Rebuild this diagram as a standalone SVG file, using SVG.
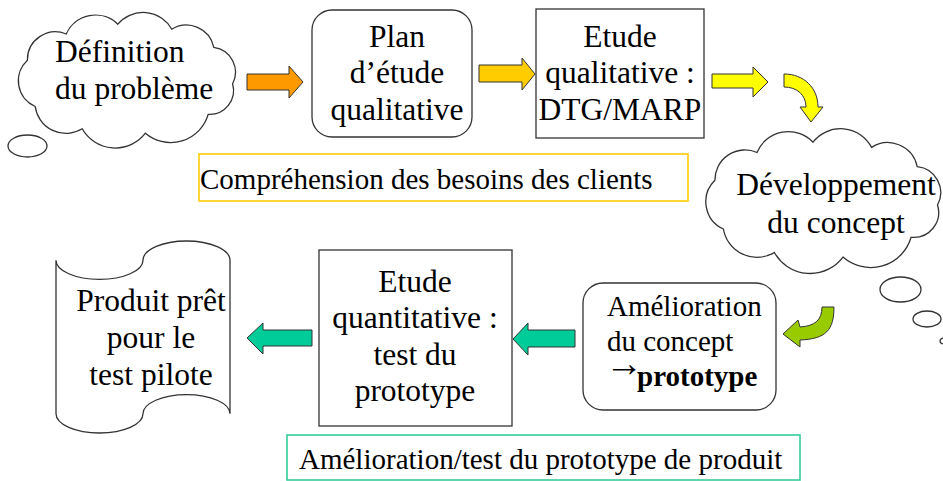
<svg xmlns="http://www.w3.org/2000/svg" width="943" height="481" viewBox="0 0 943 481">
  <style>
    .node-label { font-family: 'Liberation Serif', 'Times New Roman', serif; font-size: 31.5px; fill: #000; }
    .small-label { font-family: 'Liberation Serif', 'Times New Roman', serif; font-size: 29px; fill: #000; }
    .centered { text-anchor: middle; }
    .node-shape { fill: #fff; stroke: #333; stroke-width: 1.3; }
    .block-arrow { stroke: #333; stroke-width: 1; stroke-linejoin: miter; }
  </style>
  <rect width="943" height="481" fill="#fff"/>

  <!-- Phase labels -->
  <g id="label-comprehension">
    <rect x="199" y="154" width="489" height="47" fill="none" stroke="#FFCC00" stroke-width="1.6"/>
    <text class="small-label" x="200" y="189">Compréhension des besoins des clients</text>
  </g>
  <g id="label-amelioration">
    <rect x="287" y="435" width="513" height="45" fill="none" stroke="#33CC99" stroke-width="1.6"/>
    <text class="small-label" x="299" y="469">Amélioration/test du prototype de produit</text>
  </g>

  <!-- Cloud: problem definition -->
  <g id="definition">
    <path class="node-shape" d="M27.4,60.2 A28,28 0 0 1 66.2,34 A32,32 0 0 1 117.8,24.2 A33,33 0 0 1 171.8,29.2 A28,28 0 0 1 213.8,47.4 A25,25 0 0 1 232.6,83.8 A24,24 0 0 1 208.2,114.4 A39,39 0 0 1 145.4,133.2 A38,38 0 0 1 82.2,128.8 A31,31 0 0 1 35.2,106.5 A28,28 0 0 1 27.4,60.2 Z"/>
    <ellipse class="node-shape" cx="27.5" cy="146" rx="19.5" ry="11"/>
    <text class="node-label" x="55" y="62">Définition</text>
    <text class="node-label" x="55" y="99">du problème</text>
  </g>

  <!-- Qualitative study plan -->
  <g id="plan">
    <rect class="node-shape" x="312" y="10" width="160" height="127" rx="20" ry="20"/>
    <text class="node-label centered" x="397" y="47">Plan</text>
    <text class="node-label centered" x="397" y="83">d’étude</text>
    <text class="node-label centered" x="397" y="120">qualitative</text>
  </g>

  <!-- Qualitative study -->
  <g id="etude-qualitative">
    <rect class="node-shape" x="536" y="9" width="168" height="129"/>
    <text class="node-label centered" x="620" y="47">Etude</text>
    <text class="node-label centered" x="620" y="83">qualitative :</text>
    <text class="node-label centered" x="620" y="120">DTG/MARP</text>
  </g>

  <!-- Cloud: concept development, with its trail of small bubbles -->
  <g id="developpement">
    <path class="node-shape" d="M714.9,180.2 A30,30 0 0 1 757,152.5 A34,34 0 0 1 813,142.2 A35,35 0 0 1 871.6,147.4 A30,30 0 0 1 917.2,166.7 A26,26 0 0 1 937.5,205 A25,25 0 0 1 911.1,237.3 A42,42 0 0 1 843,257.1 A41,41 0 0 1 774.4,252.5 A34,34 0 0 1 723.4,229 A30,30 0 0 1 714.9,180.2 Z"/>
    <ellipse class="node-shape" cx="900.5" cy="289.5" rx="20.5" ry="12.5"/>
    <ellipse class="node-shape" cx="927" cy="319" rx="14" ry="8"/>
    <ellipse class="node-shape" cx="944" cy="341" rx="4" ry="3"/>
    <text class="node-label centered" x="836" y="195">Développement</text>
    <text class="node-label centered" x="836" y="233">du concept</text>
  </g>

  <!-- Concept improvement -->
  <g id="amelioration">
    <rect class="node-shape" x="583" y="283" width="193" height="127" rx="20" ry="20"/>
    <text class="small-label" x="607" y="316">Amélioration</text>
    <text class="small-label" x="607" y="351">du concept</text>
    <text class="small-label"><tspan x="605" y="376" font-size="38">→</tspan><tspan x="637" y="386" font-weight="bold">prototype</tspan></text>
  </g>

  <!-- Quantitative study -->
  <g id="etude-quantitative">
    <rect class="node-shape" x="319" y="250" width="193" height="176"/>
    <text class="node-label centered" x="415" y="292">Etude</text>
    <text class="node-label centered" x="415" y="328">quantitative :</text>
    <text class="node-label centered" x="415" y="365">test du</text>
    <text class="node-label centered" x="415" y="401">prototype</text>
  </g>

  <!-- Product ready for pilot test (punched-tape outline) -->
  <g id="produit">
    <path class="node-shape" d="M56,260.2 A43.5,19.2 0 0 0 143,260.2 A43.5,19.2 0 0 1 230,260.2 L230,413.8 A43.5,19.2 0 0 0 143,413.8 A43.5,19.2 0 0 1 56,413.8 Z"/>
    <text class="node-label centered" x="151" y="311">Produit prêt</text>
    <text class="node-label centered" x="151" y="348">pour le</text>
    <text class="node-label centered" x="151" y="385">test pilote</text>
  </g>

  <!-- Block arrows -->
  <g id="connectors">
    <path class="block-arrow" fill="#FF9900" d="M247,74 H289 V66 L303,82 L289,98 V90 H247 Z"/>
    <path class="block-arrow" fill="#FFCC00" d="M479,65 H522 V58 L535,74 L522,90 V82 H479 Z"/>
    <path class="block-arrow" fill="#FFFF00" d="M712,74 H753 V67 L768,82 L753,97 V88 H712 Z"/>
    <path class="block-arrow" fill="#FFFF00" d="M784,74 C804,74 818,88 818,107 L823,107 L811,122 L800,107 L806,107 C806,95 797,87 784,87 Z"/>
    <path class="block-arrow" fill="#99CC00" d="M822,307 L834,307 C834,330 826,339 800,340 L800,347 L783,334 L798,320 L800,327 C815,326 822,320 822,307 Z"/>
    <path class="block-arrow" fill="#00CC99" d="M575,330 H528 V323 L513,339 L528,355 V347 H575 Z"/>
    <path class="block-arrow" fill="#00CC99" d="M312,330 H263 V323 L247,338 L263,354 V346 H312 Z"/>
  </g>
</svg>
